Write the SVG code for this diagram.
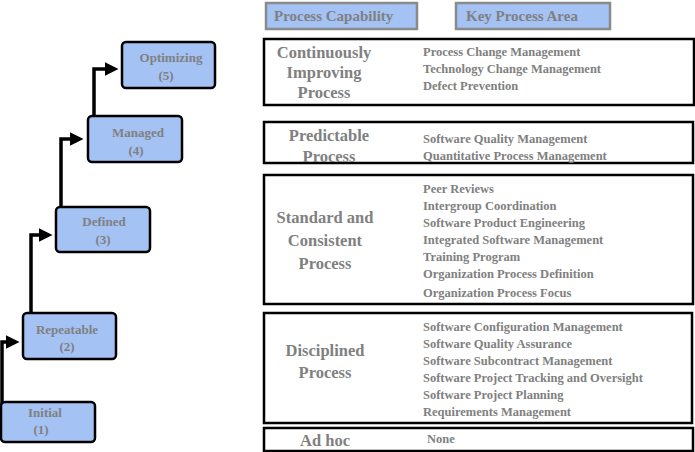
<svg xmlns="http://www.w3.org/2000/svg" width="695" height="452" viewBox="0 0 695 452">
<defs>
<style>
text{font-family:"Liberation Serif","Times New Roman",serif;font-weight:bold;fill:#808080}
.n{fill:#a4c2f4;stroke:#000;stroke-width:2.5}
.h{fill:#a4c2f4;stroke:#8a8a8a;stroke-width:2.5}
.b{fill:#fff;stroke:#000;stroke-width:2.5}
.nt{font-size:13px;text-anchor:middle}
.ht{font-size:15px}
.cap{font-size:16.5px;text-anchor:middle}
.kpa{font-size:12.5px}
.c{fill:none;stroke:#000;stroke-width:3.5}
</style>
<marker id="a" markerWidth="4" markerHeight="4" refX="3" refY="2" orient="auto"><path d="M0,0L4,2L0,4z" fill="#000"/></marker>
</defs>
<g id="connectors">
<path class="c" d="M2,415V342H16" marker-end="url(#a)"/>
<path class="c" d="M31,313V235H49" marker-end="url(#a)"/>
<path class="c" d="M61,206V139H80" marker-end="url(#a)"/>
<path class="c" d="M94,116V69H115" marker-end="url(#a)"/>
</g>
<g id="initial"><rect class="n" x="1" y="402" width="94" height="40" rx="4"/><text class="nt" x="45" y="417">Initial</text><text class="nt" x="41" y="434">(1)</text></g>
<g id="repeatable"><rect class="n" x="23" y="313" width="93" height="46" rx="4"/><text class="nt" x="67" y="334">Repeatable</text><text class="nt" x="67" y="351">(2)</text></g>
<g id="defined"><rect class="n" x="56" y="207" width="94" height="45" rx="4"/><text class="nt" x="104" y="226">Defined</text><text class="nt" x="103" y="244">(3)</text></g>
<g id="managed"><rect class="n" x="88" y="116" width="94" height="46" rx="4"/><text class="nt" x="138" y="137">Managed</text><text class="nt" x="136" y="155">(4)</text></g>
<g id="optimizing"><rect class="n" x="122" y="42" width="93" height="46" rx="4"/><text class="nt" x="171" y="62">Optimizing</text><text class="nt" x="166" y="80">(5)</text></g>
<g id="hdr-cap"><rect class="h" x="266" y="3" width="151" height="26"/><text class="ht" x="274" y="21">Process Capability</text></g>
<g id="hdr-kpa"><rect class="h" x="456" y="3" width="154" height="26"/><text class="ht" x="466" y="21">Key Process Area</text></g>
<g id="lvl5"><rect class="b" x="264" y="39" width="430" height="66"/>
<text class="cap" x="324" y="58">Continuously</text><text class="cap" x="324" y="78">Improving</text><text class="cap" x="324" y="98">Process</text>
<text class="kpa" x="423" y="56">Process Change Management</text><text class="kpa" x="423" y="73">Technology Change Management</text><text class="kpa" x="423" y="90">Defect Prevention</text></g>
<g id="lvl4"><rect class="b" x="264" y="122" width="429" height="41"/>
<text class="cap" x="329" y="141">Predictable</text><text class="cap" x="329" y="162">Process</text>
<text class="kpa" x="423" y="143">Software Quality Management</text><text class="kpa" x="423" y="160">Quantitative Process Management</text></g>
<g id="lvl3"><rect class="b" x="264" y="175" width="429" height="129"/>
<text class="cap" x="325" y="223">Standard and</text><text class="cap" x="325" y="246">Consistent</text><text class="cap" x="325" y="269">Process</text>
<text class="kpa" x="423" y="193">Peer Reviews</text><text class="kpa" x="423" y="210">Intergroup Coordination</text><text class="kpa" x="423" y="227">Software Product Engineering</text><text class="kpa" x="423" y="244">Integrated Software Management</text><text class="kpa" x="423" y="261">Training Program</text><text class="kpa" x="423" y="278">Organization Process Definition</text><text class="kpa" x="423" y="297">Organization Process Focus</text></g>
<g id="lvl2"><rect class="b" x="264" y="313" width="428" height="110"/>
<text class="cap" x="325" y="356">Disciplined</text><text class="cap" x="325" y="378">Process</text>
<text class="kpa" x="423" y="331">Software Configuration Management</text><text class="kpa" x="423" y="348">Software Quality Assurance</text><text class="kpa" x="423" y="365">Software Subcontract Management</text><text class="kpa" x="423" y="382">Software Project Tracking and Oversight</text><text class="kpa" x="423" y="399">Software Project Planning</text><text class="kpa" x="423" y="416">Requirements Management</text></g>
<g id="lvl1"><rect class="b" x="264" y="428" width="429" height="23"/>
<text class="cap" x="325" y="446">Ad hoc</text><text class="kpa" x="427" y="443">None</text></g>
</svg>
